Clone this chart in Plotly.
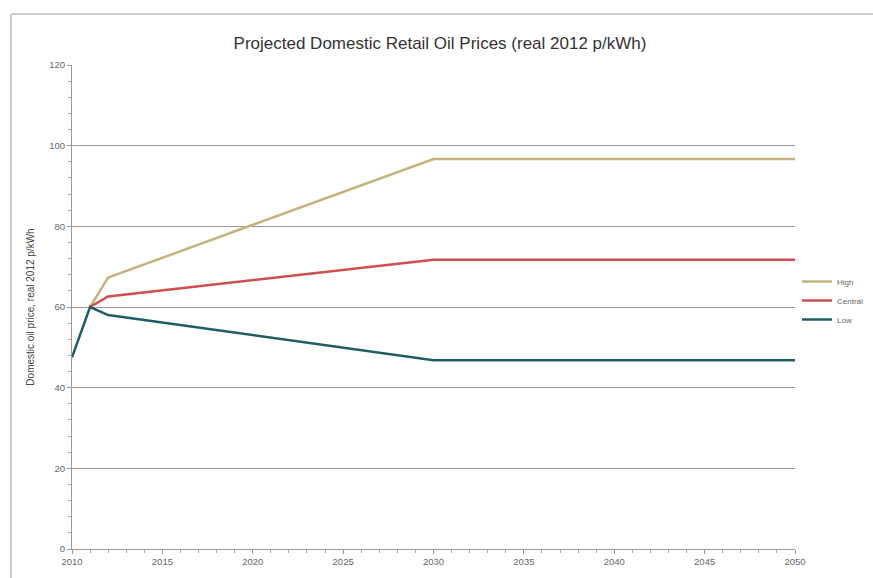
import plotly.graph_objects as go

years_low = [2010, 2011, 2012, 2030, 2050]
low = [47.5, 60, 58, 46.8, 46.8]
years_hc = [2011, 2012, 2030, 2050]
high = [60, 67.3, 96.7, 96.7]
central = [60, 62.6, 71.7, 71.7]

W, H = 873, 578
ml, mr, mt, mb = 72, 78, 65, 29
pw, ph = W - ml - mr, H - mt - mb

fig = go.Figure()
fig.add_trace(go.Scatter(x=years_hc, y=high, mode="lines", name="High",
                         line=dict(color="#c2b47c", width=2.5)))
fig.add_trace(go.Scatter(x=years_hc, y=central, mode="lines", name="Central",
                         line=dict(color="#cf4f52", width=2.5)))
fig.add_trace(go.Scatter(x=years_low, y=low, mode="lines", name="Low",
                         line=dict(color="#1f5f63", width=2.5)))

def px2paper_x(px):
    return (px - ml) / pw

def px2paper_y(py):
    return (H - mb - py) / ph

fig.add_shape(type="line", xref="paper", yref="paper",
              x0=px2paper_x(11), x1=px2paper_x(873), y0=px2paper_y(14), y1=px2paper_y(14),
              line=dict(color="#cccccc", width=2))
fig.add_shape(type="line", xref="paper", yref="paper",
              x0=px2paper_x(11), x1=px2paper_x(11), y0=px2paper_y(14), y1=px2paper_y(578),
              line=dict(color="#cccccc", width=2))

fig.update_layout(
    width=W, height=H,
    margin=dict(l=ml, r=mr, t=mt, b=mb, autoexpand=False),
    paper_bgcolor="white", plot_bgcolor="white",
    font=dict(family="Liberation Sans, Arial, sans-serif", color="#555555"),
    title=dict(text="Projected Domestic Retail Oil Prices (real 2012 p/kWh)",
               x=px2paper_x(440), xref="paper", xanchor="center", y=1 - 43 / H, yanchor="middle",
               font=dict(size=17, color="#333333")),
    showlegend=True,
    legend=dict(x=px2paper_x(797), y=px2paper_y(267), xanchor="left", yanchor="top",
                font=dict(size=8, color="#666666"), itemwidth=30,
                tracegroupgap=0, bgcolor="rgba(0,0,0,0)"),
    xaxis=dict(range=[2010, 2050], tickvals=list(range(2010, 2051, 5)),
               showgrid=False, zeroline=False, showline=True, linecolor="#999999", linewidth=1,
               ticks="outside", ticklen=4, tickcolor="#999999",
               tickfont=dict(size=9.5, color="#666666"),
               minor=dict(dtick=1, ticks="outside", ticklen=3, tickcolor="#aaaaaa")),
    yaxis=dict(range=[0, 120], tickvals=list(range(0, 121, 20)),
               showgrid=True, gridcolor="#999999", gridwidth=1.2,
               zeroline=False, showline=True, linecolor="#999999", linewidth=1,
               ticks="outside", ticklen=4, tickcolor="#999999",
               tickfont=dict(size=9.5, color="#666666"),
               minor=dict(dtick=4, ticks="outside", ticklen=3, tickcolor="#aaaaaa", showgrid=False),
               title=dict(text="Domestic oil price, real 2012 p/kWh", standoff=12,
                          font=dict(size=10, color="#444444"))),
)

fig.write_html("out.html")
